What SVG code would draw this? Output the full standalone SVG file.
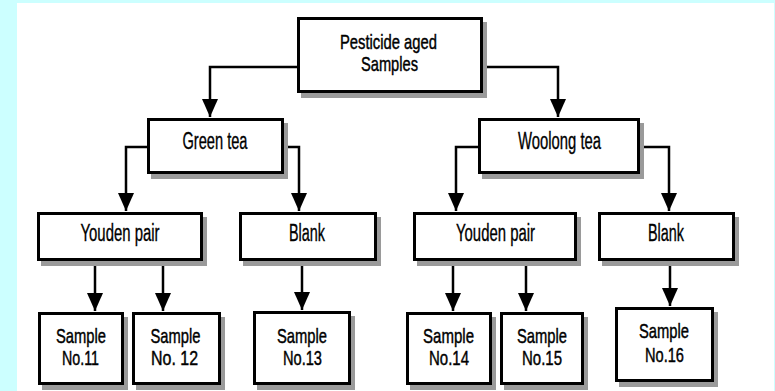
<svg xmlns="http://www.w3.org/2000/svg" width="775" height="391" viewBox="0 0 775 391">
<defs>
<style>
.box{fill:#fff;stroke:#000;stroke-width:3}
.sh{fill:#9a9a9a}
.lbl{font-family:"Liberation Sans",Arial,sans-serif;font-size:23px;fill:#000;stroke:#000;stroke-width:0.35;text-anchor:middle}
.ml{font-size:21px;stroke-width:0.45}
.con{fill:none;stroke:#000;stroke-width:2.5;marker-end:url(#arr)}
</style>
<marker id="arr" viewBox="0 0 18 16" refX="18" refY="8" markerWidth="18" markerHeight="16" markerUnits="userSpaceOnUse" orient="auto">
<path d="M0,0 L18,8 L0,16 z" fill="#000"/>
</marker>
</defs>
<rect x="0" y="0" width="775" height="391" fill="#ccffff"/>
<rect x="17" y="3" width="757" height="388" fill="#fff"/>

<g id="connectors">
<path class="con" d="M297,67 H210 V117"/>
<path class="con" d="M483,67 H558 V117"/>
<path class="con" d="M147,147 H126 V211"/>
<path class="con" d="M284,147 H299 V211"/>
<path class="con" d="M478,147 H456 V211"/>
<path class="con" d="M640,147 H669 V211"/>
<path class="con" d="M95,261 V311"/>
<path class="con" d="M163,261 V311"/>
<path class="con" d="M302,261 V310"/>
<path class="con" d="M453,261 V311"/>
<path class="con" d="M526,261 V311"/>
<path class="con" d="M670,261 V306"/>
</g>

<g id="root">
<rect class="sh" x="301" y="22" width="186" height="76"/>
<rect class="box" x="298.5" y="18.5" width="183" height="73"/>
<text class="lbl ml" x="388.5" y="49" textLength="97" lengthAdjust="spacingAndGlyphs">Pesticide aged</text>
<text class="lbl ml" x="389.5" y="71" textLength="57" lengthAdjust="spacingAndGlyphs">Samples</text>
</g>

<g id="green">
<rect class="sh" x="151" y="123" width="137" height="56"/>
<rect class="box" x="148.5" y="119.5" width="134" height="53"/>
<text class="lbl" x="215" y="149" textLength="65" lengthAdjust="spacingAndGlyphs">Green tea</text>
</g>

<g id="woolong">
<rect class="sh" x="482" y="123" width="162" height="56"/>
<rect class="box" x="479.5" y="119.5" width="159" height="53"/>
<text class="lbl" x="559.5" y="149" textLength="83" lengthAdjust="spacingAndGlyphs">Woolong tea</text>
</g>

<g id="youden1">
<rect class="sh" x="41" y="217" width="166" height="49"/>
<rect class="box" x="38.5" y="213.5" width="163" height="46"/>
<text class="lbl" x="120" y="241" textLength="79" lengthAdjust="spacingAndGlyphs">Youden pair</text>
</g>

<g id="blank1">
<rect class="sh" x="243" y="217" width="138" height="49"/>
<rect class="box" x="240.5" y="213.5" width="135" height="46"/>
<text class="lbl" x="307" y="241" textLength="36" lengthAdjust="spacingAndGlyphs">Blank</text>
</g>

<g id="youden2">
<rect class="sh" x="417" y="217" width="164" height="49"/>
<rect class="box" x="414.5" y="213.5" width="161" height="46"/>
<text class="lbl" x="495.5" y="241" textLength="79" lengthAdjust="spacingAndGlyphs">Youden pair</text>
</g>

<g id="blank2">
<rect class="sh" x="602" y="217" width="137" height="49"/>
<rect class="box" x="599.5" y="213.5" width="134" height="46"/>
<text class="lbl" x="666" y="241" textLength="36" lengthAdjust="spacingAndGlyphs">Blank</text>
</g>

<g id="s11">
<rect class="sh" x="42" y="317" width="86" height="73"/>
<rect class="box" x="39.5" y="313.5" width="83" height="70"/>
<text class="lbl ml" x="81" y="342.5" textLength="50" lengthAdjust="spacingAndGlyphs">Sample</text>
<text class="lbl ml" x="80.5" y="365" textLength="37" lengthAdjust="spacingAndGlyphs">No.11</text>
</g>

<g id="s12">
<rect class="sh" x="136" y="317" width="89" height="73"/>
<rect class="box" x="133.5" y="313.5" width="86" height="70"/>
<text class="lbl ml" x="175.5" y="342.5" textLength="50" lengthAdjust="spacingAndGlyphs">Sample</text>
<text class="lbl ml" x="174.5" y="365" textLength="47" lengthAdjust="spacingAndGlyphs">No. 12</text>
</g>

<g id="s13">
<rect class="sh" x="257" y="316" width="98" height="74"/>
<rect class="box" x="254.5" y="312.5" width="95" height="71"/>
<text class="lbl ml" x="302" y="342.5" textLength="50" lengthAdjust="spacingAndGlyphs">Sample</text>
<text class="lbl ml" x="302.5" y="365" textLength="39" lengthAdjust="spacingAndGlyphs">No.13</text>
</g>

<g id="s14">
<rect class="sh" x="410" y="317" width="86" height="73"/>
<rect class="box" x="407.5" y="313.5" width="83" height="70"/>
<text class="lbl ml" x="448.5" y="342.5" textLength="51" lengthAdjust="spacingAndGlyphs">Sample</text>
<text class="lbl ml" x="449" y="365" textLength="40" lengthAdjust="spacingAndGlyphs">No.14</text>
</g>

<g id="s15">
<rect class="sh" x="504" y="317" width="84" height="73"/>
<rect class="box" x="501.5" y="313.5" width="81" height="70"/>
<text class="lbl ml" x="542" y="342.5" textLength="50" lengthAdjust="spacingAndGlyphs">Sample</text>
<text class="lbl ml" x="542" y="365" textLength="40" lengthAdjust="spacingAndGlyphs">No.15</text>
</g>

<g id="s16">
<rect class="sh" x="619" y="312" width="99" height="75"/>
<rect class="box" x="616.5" y="308.5" width="96" height="72"/>
<text class="lbl ml" x="664" y="338" textLength="50" lengthAdjust="spacingAndGlyphs">Sample</text>
<text class="lbl ml" x="664.5" y="362" textLength="39" lengthAdjust="spacingAndGlyphs">No.16</text>
</g>
</svg>
